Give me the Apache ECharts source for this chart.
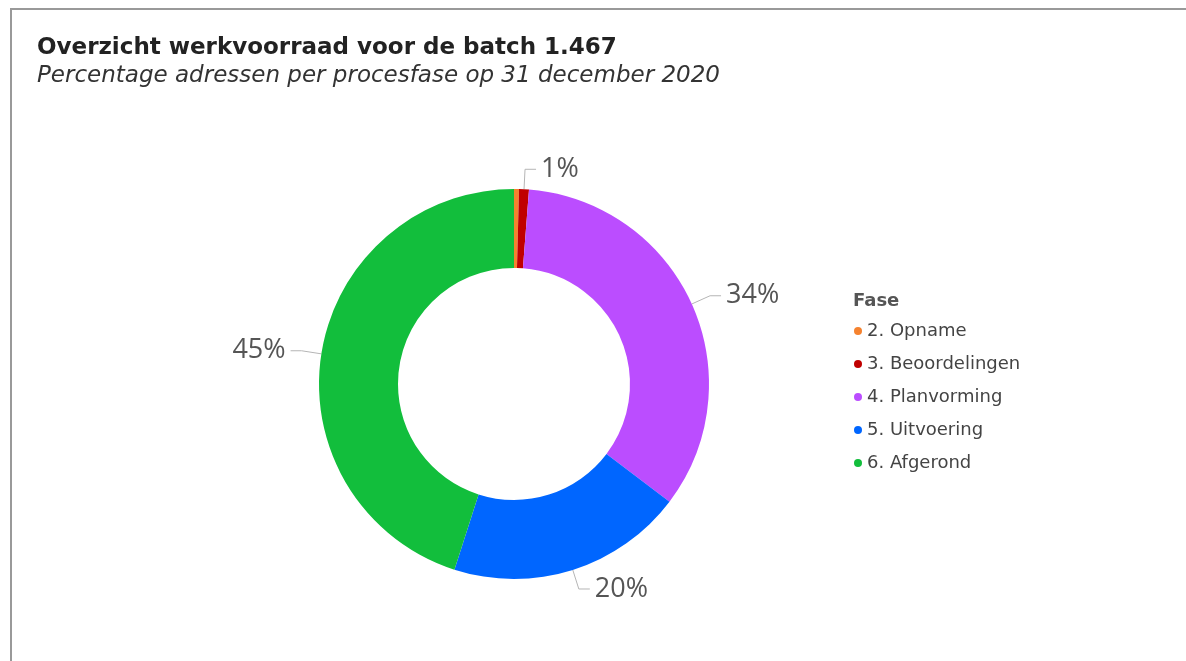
<!DOCTYPE html>
<html>
<head>
<meta charset="utf-8">
<title>Overzicht werkvoorraad</title>
<script src="https://cdn.jsdelivr.net/npm/echarts@6/dist/echarts.min.js"></script>
<style>
  html, body { margin: 0; padding: 0; background: #fff; }
  #chart { width: 1186px; height: 661px; }
</style>
</head>
<body>
<div id="chart"></div>
<script>
// fasen en aantal adressen (batch van 1.467)
var fasen = ['2. Opname', '3. Beoordelingen', '4. Planvorming', '5. Uitvoering', '6. Afgerond']
var aantallen = [6, 12, 500, 288, 661]
var kleuren = ['#F5822F', '#C00000', '#BB4DFF', '#0066FF', '#12BE3C']
var toonLabel = [false, true, true, true, true]

var font = '"DejaVu Sans", Verdana, sans-serif'

var chart = echarts.init(document.getElementById('chart'))

var data = fasen.map(function (f, i) {
    return {
        name: f,
        value: aantallen[i],
        itemStyle: { color: kleuren[i] },
        label: { show: toonLabel[i] },
        labelLine: { show: toonLabel[i] }
    }
})

var option = {
    animation: false,
    title: [
        {
            text: 'Overzicht werkvoorraad voor de batch 1.467',
            subtext: 'Percentage adressen per procesfase op 31 december 2020',
            left: 32,
            top: 32,
            itemGap: 5,
            textStyle: {
                fontFamily: font,
                fontWeight: 'bold',
                fontSize: 23,
                color: '#222'
            },
            subtextStyle: {
                fontFamily: font,
                fontStyle: 'italic',
                fontSize: 23,
                color: '#333'
            }
        },
        {
            text: 'Fase',
            left: 848,
            top: 287,
            textStyle: {
                fontFamily: font,
                fontWeight: 'bold',
                fontSize: 18,
                color: '#555'
            }
        }
    ],
    legend: {
        orient: 'vertical',
        left: 849,
        top: 317,
        icon: 'circle',
        itemWidth: 8,
        itemHeight: 8,
        itemGap: 15,
        selectedMode: false,
        data: fasen,
        textStyle: {
            fontFamily: font,
            fontSize: 18,
            lineHeight: 18,
            color: '#444',
            padding: [0, 0, 0, 0]
        }
    },
    graphic: [
        {
            type: 'polyline',
            shape: { points: [[11, 661], [11, 9], [1186, 9]] },
            style: { stroke: '#999', lineWidth: 2, fill: null },
            silent: true
        }
    ],
    series: [
        {
            type: 'pie',
            center: [514, 384],
            radius: [116, 195],
            startAngle: 90,
            clockwise: true,
            avoidLabelOverlap: false,
            label: {
                show: true,
                position: 'outside',
                fontFamily: 'Open Sans',
                fontSize: 27,
                color: '#555',
                formatter: function (p) {
                    return Math.round(p.percent) + '%'
                }
            },
            labelLine: {
                length: 20,
                length2: 11,
                lineStyle: { color: '#b5b5b5', width: 1 }
            },
            data: data
        }
    ]
}

chart.setOption(option)
</script>
</body>
</html>
